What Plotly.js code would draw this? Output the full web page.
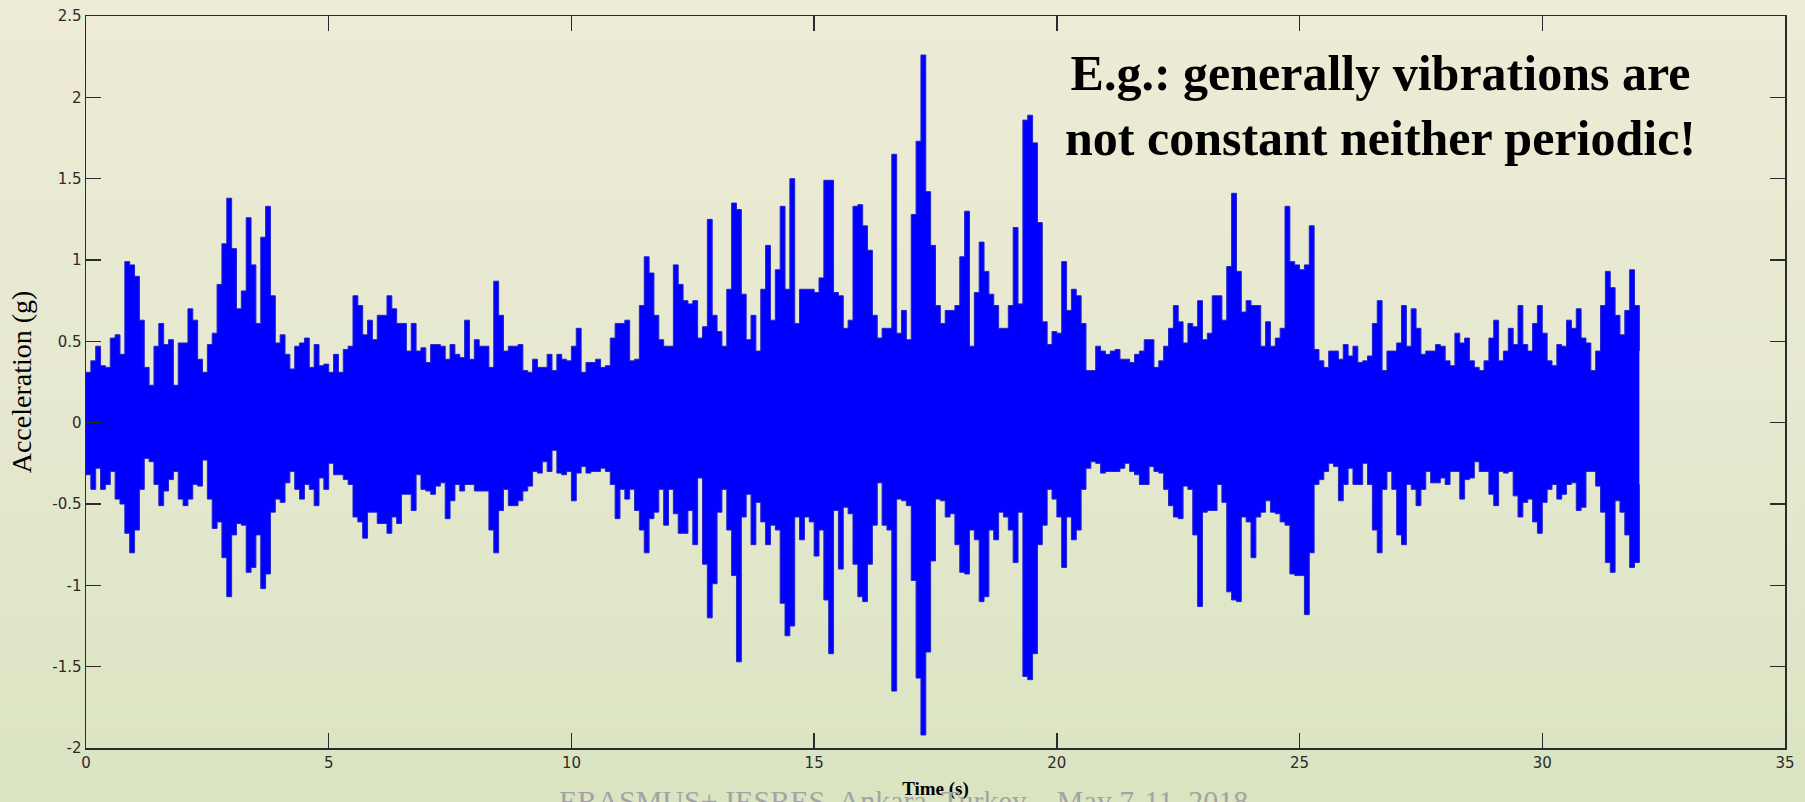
<!DOCTYPE html>
<html>
<head>
<meta charset="utf-8">
<script src="https://cdn.plot.ly/plotly-3.0.1.min.js"></script>
<style>
  html, body { margin: 0; padding: 0; }
  body { width: 1805px; height: 802px; overflow: hidden;
         background: linear-gradient(to bottom, #EEEBD6 0%, #E6E8CF 50%, #DAE4C1 100%); }
  #chart { width: 1805px; height: 802px; }
</style>
</head>
<body>
<div id="chart"></div>
<script>
// Sample times (s), one reading every 0.1 s
const time = [
0.0,0.1,0.2,0.3,0.4,0.5,0.6,0.7,0.8,0.9,
1.0,1.1,1.2,1.3,1.4,1.5,1.6,1.7,1.8,1.9,
2.0,2.1,2.2,2.3,2.4,2.5,2.6,2.7,2.8,2.9,
3.0,3.1,3.2,3.3,3.4,3.5,3.6,3.7,3.8,3.9,
4.0,4.1,4.2,4.3,4.4,4.5,4.6,4.7,4.8,4.9,
5.0,5.1,5.2,5.3,5.4,5.5,5.6,5.7,5.8,5.9,
6.0,6.1,6.2,6.3,6.4,6.5,6.6,6.7,6.8,6.9,
7.0,7.1,7.2,7.3,7.4,7.5,7.6,7.7,7.8,7.9,
8.0,8.1,8.2,8.3,8.4,8.5,8.6,8.7,8.8,8.9,
9.0,9.1,9.2,9.3,9.4,9.5,9.6,9.7,9.8,9.9,
10.0,10.1,10.2,10.3,10.4,10.5,10.6,10.7,10.8,10.9,
11.0,11.1,11.2,11.3,11.4,11.5,11.6,11.7,11.8,11.9,
12.0,12.1,12.2,12.3,12.4,12.5,12.6,12.7,12.8,12.9,
13.0,13.1,13.2,13.3,13.4,13.5,13.6,13.7,13.8,13.9,
14.0,14.1,14.2,14.3,14.4,14.5,14.6,14.7,14.8,14.9,
15.0,15.1,15.2,15.3,15.4,15.5,15.6,15.7,15.8,15.9,
16.0,16.1,16.2,16.3,16.4,16.5,16.6,16.7,16.8,16.9,
17.0,17.1,17.2,17.3,17.4,17.5,17.6,17.7,17.8,17.9,
18.0,18.1,18.2,18.3,18.4,18.5,18.6,18.7,18.8,18.9,
19.0,19.1,19.2,19.3,19.4,19.5,19.6,19.7,19.8,19.9,
20.0,20.1,20.2,20.3,20.4,20.5,20.6,20.7,20.8,20.9,
21.0,21.1,21.2,21.3,21.4,21.5,21.6,21.7,21.8,21.9,
22.0,22.1,22.2,22.3,22.4,22.5,22.6,22.7,22.8,22.9,
23.0,23.1,23.2,23.3,23.4,23.5,23.6,23.7,23.8,23.9,
24.0,24.1,24.2,24.3,24.4,24.5,24.6,24.7,24.8,24.9,
25.0,25.1,25.2,25.3,25.4,25.5,25.6,25.7,25.8,25.9,
26.0,26.1,26.2,26.3,26.4,26.5,26.6,26.7,26.8,26.9,
27.0,27.1,27.2,27.3,27.4,27.5,27.6,27.7,27.8,27.9,
28.0,28.1,28.2,28.3,28.4,28.5,28.6,28.7,28.8,28.9,
29.0,29.1,29.2,29.3,29.4,29.5,29.6,29.7,29.8,29.9,
30.0,30.1,30.2,30.3,30.4,30.5,30.6,30.7,30.8,30.9,
31.0,31.1,31.2,31.3,31.4,31.5,31.6,31.7,31.8,31.9,
32.0
];

// Positive peak acceleration (g) in each 0.1 s window
const peakPositive = [
0.31,0.38,0.47,0.35,0.34,0.52,0.54,0.42,0.99,0.97,
0.90,0.63,0.34,0.23,0.47,0.61,0.48,0.51,0.23,0.49,
0.49,0.70,0.63,0.39,0.31,0.48,0.55,0.85,1.10,1.38,
1.07,0.70,0.81,1.26,0.97,0.61,1.14,1.33,0.78,0.49,
0.54,0.42,0.33,0.47,0.49,0.52,0.34,0.48,0.35,0.36,
0.31,0.42,0.31,0.45,0.47,0.78,0.72,0.54,0.63,0.51,
0.66,0.66,0.78,0.70,0.61,0.61,0.44,0.61,0.44,0.46,
0.37,0.48,0.48,0.47,0.39,0.48,0.42,0.40,0.63,0.39,
0.51,0.47,0.47,0.34,0.87,0.66,0.44,0.47,0.47,0.48,
0.32,0.31,0.39,0.34,0.34,0.42,0.32,0.42,0.39,0.38,
0.47,0.58,0.31,0.37,0.37,0.39,0.34,0.35,0.52,0.61,
0.61,0.63,0.38,0.39,0.72,1.02,0.92,0.66,0.51,0.47,
0.47,0.97,0.85,0.75,0.73,0.75,0.52,0.59,1.25,0.66,
0.56,0.47,0.82,1.35,1.31,0.79,0.51,0.66,0.44,0.82,
1.09,0.63,0.94,1.33,0.82,1.50,0.61,0.82,0.82,0.82,
0.80,0.89,1.49,1.49,0.80,0.78,0.58,0.63,1.33,1.34,
1.21,1.06,0.66,0.52,0.58,0.58,1.65,0.55,0.69,0.51,
1.28,1.73,2.26,1.42,1.09,0.72,0.61,0.69,0.69,0.72,
1.02,1.30,0.47,0.80,1.11,0.93,0.79,0.72,0.58,0.58,
0.72,1.20,0.73,1.86,1.89,1.72,1.23,0.62,0.48,0.56,
0.55,0.99,0.69,0.82,0.78,0.61,0.32,0.32,0.47,0.44,
0.42,0.44,0.45,0.39,0.39,0.37,0.42,0.44,0.51,0.51,
0.34,0.38,0.47,0.58,0.72,0.62,0.49,0.61,0.59,0.75,
0.51,0.55,0.78,0.78,0.63,0.96,1.41,0.93,0.68,0.75,
0.72,0.72,0.47,0.62,0.47,0.52,0.58,1.33,0.99,0.97,
0.94,0.97,1.21,0.45,0.38,0.34,0.44,0.44,0.39,0.48,
0.41,0.47,0.37,0.38,0.41,0.61,0.75,0.32,0.44,0.44,
0.49,0.72,0.47,0.70,0.58,0.42,0.44,0.44,0.48,0.47,
0.38,0.35,0.55,0.49,0.52,0.38,0.34,0.32,0.38,0.52,
0.63,0.38,0.44,0.58,0.48,0.72,0.48,0.44,0.61,0.72,
0.55,0.38,0.35,0.48,0.47,0.63,0.58,0.70,0.52,0.49,
0.32,0.44,0.72,0.93,0.83,0.66,0.54,0.69,0.94,0.72,
0.44
];

// Negative peak acceleration (g) in each 0.1 s window
const peakNegative = [
-0.32,-0.41,-0.28,-0.41,-0.38,-0.30,-0.47,-0.50,-0.68,-0.80,
-0.66,-0.41,-0.22,-0.24,-0.38,-0.51,-0.42,-0.35,-0.30,-0.47,
-0.51,-0.47,-0.38,-0.39,-0.23,-0.47,-0.65,-0.61,-0.83,-1.07,
-0.69,-0.62,-0.63,-0.92,-0.89,-0.69,-1.02,-0.93,-0.55,-0.47,
-0.49,-0.37,-0.30,-0.41,-0.47,-0.38,-0.41,-0.51,-0.34,-0.41,
-0.25,-0.32,-0.32,-0.35,-0.38,-0.58,-0.61,-0.71,-0.55,-0.55,
-0.62,-0.62,-0.68,-0.58,-0.62,-0.44,-0.44,-0.54,-0.32,-0.41,
-0.42,-0.44,-0.39,-0.37,-0.59,-0.48,-0.38,-0.42,-0.38,-0.38,
-0.42,-0.42,-0.42,-0.66,-0.80,-0.54,-0.41,-0.51,-0.51,-0.48,
-0.42,-0.39,-0.30,-0.31,-0.24,-0.30,-0.17,-0.31,-0.32,-0.30,
-0.48,-0.31,-0.27,-0.31,-0.30,-0.30,-0.28,-0.30,-0.38,-0.59,
-0.41,-0.47,-0.41,-0.54,-0.66,-0.80,-0.59,-0.55,-0.41,-0.63,
-0.41,-0.56,-0.68,-0.68,-0.54,-0.75,-0.34,-0.87,-1.20,-0.99,
-0.55,-0.41,-0.66,-0.94,-1.47,-0.58,-0.44,-0.75,-0.49,-0.61,
-0.75,-0.63,-0.66,-1.11,-1.31,-1.25,-0.58,-0.72,-0.58,-0.61,
-0.82,-0.66,-1.09,-1.42,-0.54,-0.90,-0.52,-0.56,-0.87,-1.07,
-1.10,-0.87,-0.63,-0.37,-0.63,-0.66,-1.65,-0.47,-0.48,-0.51,
-0.97,-1.57,-1.92,-1.41,-0.85,-0.47,-0.48,-0.58,-0.56,-0.75,
-0.92,-0.93,-0.66,-0.72,-1.10,-1.07,-0.66,-0.72,-0.55,-0.58,
-0.66,-0.86,-0.55,-1.56,-1.58,-1.42,-0.75,-0.63,-0.41,-0.47,
-0.58,-0.89,-0.58,-0.72,-0.66,-0.41,-0.28,-0.24,-0.25,-0.31,
-0.30,-0.30,-0.30,-0.28,-0.25,-0.30,-0.32,-0.38,-0.38,-0.27,
-0.30,-0.31,-0.41,-0.51,-0.58,-0.59,-0.39,-0.41,-0.69,-1.13,
-0.55,-0.54,-0.54,-0.38,-0.49,-1.04,-1.09,-1.10,-0.58,-0.61,
-0.83,-0.58,-0.55,-0.48,-0.55,-0.56,-0.61,-0.63,-0.93,-0.94,
-0.94,-1.18,-0.80,-0.38,-0.35,-0.30,-0.25,-0.27,-0.48,-0.38,
-0.28,-0.38,-0.38,-0.25,-0.38,-0.66,-0.80,-0.41,-0.30,-0.41,
-0.69,-0.75,-0.38,-0.41,-0.51,-0.41,-0.30,-0.37,-0.37,-0.34,
-0.38,-0.30,-0.30,-0.47,-0.35,-0.34,-0.24,-0.30,-0.30,-0.44,
-0.51,-0.30,-0.31,-0.30,-0.45,-0.58,-0.49,-0.47,-0.61,-0.68,
-0.49,-0.41,-0.38,-0.47,-0.44,-0.38,-0.37,-0.54,-0.52,-0.30,
-0.30,-0.39,-0.55,-0.86,-0.92,-0.48,-0.55,-0.69,-0.89,-0.86,
-0.38
];

const xTickVals = [0, 5, 10, 15, 20, 25, 30, 35];
const xTickText = ['0', '5', '10', '15', '20', '25', '30', '35'];
const yTickVals = [-2, -1.5, -1, -0.5, 0, 0.5, 1, 1.5, 2, 2.5];
const yTickText = ['-2', '-1.5', '-1', '-0.5', '0', '0.5', '1', '1.5', '2', '2.5'];

const xLabel = 'Time (s)';
const yLabel = 'Acceleration (g)';
const noteText = 'E.g.: generally vibrations are<br>not constant neither periodic!';
const footerText = 'ERASMUS+ IESRES, Ankara, Turkey \u2013 May 7-11, 2018';

const signalColor = '#0000FF';
const edgeColor = '#2424C8';

// upper envelope first (outline only), then lower envelope filled back to it
const traces = [
  { x: time, y: peakPositive, type: 'scatter', mode: 'lines',
    line: { shape: 'hv', color: edgeColor, width: 1 }, hoverinfo: 'skip' },
  { x: time, y: peakNegative, type: 'scatter', mode: 'lines',
    line: { shape: 'hv', color: edgeColor, width: 1 },
    fill: 'tonexty', fillcolor: signalColor, hoverinfo: 'skip' }
];

const axisCommon = {
  ticks: 'inside', ticklen: 15, tickwidth: 1.3, tickcolor: '#2b2b2b',
  showline: true, linecolor: '#2b2b2b', linewidth: 1.5, mirror: 'ticks',
  showgrid: false, zeroline: false, fixedrange: true,
  tickfont: { family: 'DejaVu Sans', size: 15, color: '#2b2b2b' }
};

const layout = {
  width: 1805, height: 802,
  margin: { l: 86, r: 20, t: 16, b: 54, pad: 0 },
  paper_bgcolor: 'rgba(0,0,0,0)', plot_bgcolor: 'rgba(0,0,0,0)',
  showlegend: false,
  xaxis: Object.assign({}, axisCommon, {
    range: [0, 35], tickmode: 'array', tickvals: xTickVals, ticktext: xTickText,
    title: { text: xLabel, standoff: 11,
             font: { family: 'Liberation Serif', size: 19, color: '#000', weight: 'bold' } }
  }),
  yaxis: Object.assign({}, axisCommon, {
    range: [-2, 2.5], tickmode: 'array', tickvals: yTickVals, ticktext: yTickText,
    title: { text: yLabel, standoff: 12,
             font: { family: 'Liberation Serif', size: 28, color: '#000' } }
  }),
  annotations: [
    { xref: 'paper', yref: 'paper', x: 0.762, y: 0.8784, xanchor: 'center', yanchor: 'middle',
      text: noteText, showarrow: false, align: 'center',
      font: { family: 'Liberation Serif', size: 50, color: '#000', weight: 'bold' } },
    { xref: 'paper', yref: 'paper', x: 0.481, y: -0.072, xanchor: 'center', yanchor: 'middle',
      text: footerText, showarrow: false,
      font: { family: 'Liberation Serif', size: 30, color: '#A3A3A3' } }
  ]
};

Plotly.newPlot('chart', traces, layout, { staticPlot: true, displayModeBar: false });
</script>
</body>
</html>
